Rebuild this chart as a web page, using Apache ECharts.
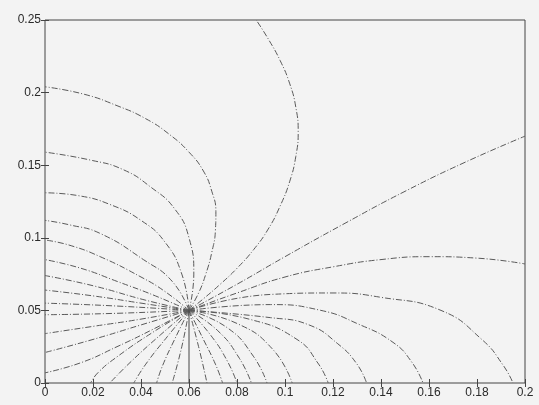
<!DOCTYPE html>
<html>
<head>
<meta charset="utf-8">
<script src="https://cdn.jsdelivr.net/npm/echarts@6/dist/echarts.min.js"></script>
<style>
  html, body { margin: 0; padding: 0; background: #f3f3f3; }
  #main { width: 539px; height: 405px; }
</style>
</head>
<body>
<div id="main"></div>
<script>
// field lines, each starts at the source point (0.06, 0.05)
const source = [0.06, 0.05];

// lines ending on the left edge x = 0
const toLeft = [
    [[0.064, 0.062], [0.067, 0.075], [0.0695, 0.09], [0.071, 0.105], [0.0712, 0.118], [0.0695, 0.132], [0.066, 0.146], [0.06, 0.159], [0.052, 0.171], [0.042, 0.182], [0.03, 0.191], [0.016, 0.199], [0, 0.204]],
    [[0.062, 0.075], [0.06, 0.1], [0.054, 0.12], [0.044, 0.135], [0.0325, 0.147], [0.019, 0.1535], [0, 0.159]],
    [[0.057, 0.075], [0.05, 0.097], [0.04, 0.112], [0.027, 0.123], [0.014, 0.129], [0, 0.131]],
    [[0.053, 0.07], [0.041, 0.085], [0.023, 0.103], [0.01, 0.109], [0, 0.112]],
    [[0.05, 0.063], [0.04, 0.073], [0.023, 0.087], [0.01, 0.095], [0, 0.0985]],
    [[0.046, 0.06], [0.03, 0.07], [0.015, 0.079], [0, 0.085]],
    [[0.042, 0.057], [0.02, 0.067], [0, 0.074]],
    [[0.04, 0.055], [0.02, 0.06], [0, 0.064]],
    [[0.03, 0.053], [0, 0.055]],
    [[0.03, 0.048], [0, 0.047]],
    [[0.04, 0.044], [0.02, 0.039], [0, 0.034]],
    [[0.04, 0.04], [0.02, 0.03], [0, 0.021]],
    [[0.045, 0.037], [0.03, 0.025], [0.015, 0.014], [0, 0.007]]
];

// lines ending on the bottom edge y = 0
const toBottom = [
    [[0.045, 0.035], [0.03, 0.018], [0.022, 0.007], [0.019, 0]],
    [[0.048, 0.033], [0.036, 0.015], [0.027, 0]],
    [[0.051, 0.032], [0.042, 0.013], [0.037, 0]],
    [[0.054, 0.03], [0.049, 0.012], [0.0465, 0]],
    [[0.057, 0.025], [0.053, 0]],
    [[0.064, 0.025], [0.0675, 0]],
    [[0.066, 0.03], [0.071, 0.013], [0.074, 0]],
    [[0.069, 0.033], [0.076, 0.015], [0.08, 0]],
    [[0.072, 0.036], [0.081, 0.017], [0.086, 0]],
    [[0.076, 0.038], [0.087, 0.018], [0.0925, 0]],
    [[0.08, 0.041], [0.095, 0.023], [0.103, 0]],
    [[0.085, 0.044], [0.105, 0.03], [0.114, 0.013], [0.118, 0]],
    [[0.094, 0.045], [0.11, 0.04], [0.122, 0.027], [0.13, 0.013], [0.134, 0]],
    [[0.094, 0.054], [0.115, 0.05], [0.13, 0.041], [0.145, 0.028], [0.153, 0.014], [0.1575, 0]],
    [[0.094, 0.061], [0.12, 0.062], [0.14, 0.059], [0.165, 0.05], [0.182, 0.03], [0.191, 0.012], [0.195, 0]]
];

// the straight drop from the source to the bottom edge
const stem = [[0.06, 0.05], [0.06, 0]];

// lines ending on the right edge x = 0.2
const toRight = [
    [[0.08, 0.062], [0.1, 0.073], [0.12, 0.08], [0.14, 0.085], [0.16, 0.087], [0.18, 0.086], [0.2, 0.082]],
    [[0.08, 0.068], [0.1, 0.087], [0.125, 0.11], [0.15, 0.132], [0.175, 0.152], [0.2, 0.17]]
];

// line ending on the top edge y = 0.25
const toTop = [
    [[0.066, 0.058], [0.073, 0.068], [0.08, 0.079], [0.087, 0.092], [0.093, 0.106], [0.098, 0.122], [0.102, 0.139], [0.1045, 0.156], [0.1055, 0.173], [0.1045, 0.19], [0.102, 0.206], [0.098, 0.222], [0.093, 0.237], [0.088, 0.25]]
];

const xTicks = [0, 0.02, 0.04, 0.06, 0.08, 0.1, 0.12, 0.14, 0.16, 0.18, 0.2];
const yTicks = [0, 0.05, 0.1, 0.15, 0.2, 0.25];

const allLines = [].concat(toLeft, toBottom, toRight, toTop);

const series = allLines.map(function (pts) {
    return {
        type: 'line',
        data: [source].concat(pts),
        smooth: 0.5,
        showSymbol: false,
        silent: true,
        lineStyle: {
            color: '#5a5a5a',
            width: 1,
            type: [6, 2, 1, 2]
        }
    };
});
series.push({
    type: 'line',
    data: stem,
    showSymbol: false,
    silent: true,
    lineStyle: { color: '#444', width: 1 }
});

function tickFmt(v) {
    return String(+v.toFixed(2));
}

const axisText = { color: '#2a2a2a', fontSize: 12, fontFamily: 'Liberation Sans' };
const tickStyle = { show: true, inside: true, length: 4, lineStyle: { color: '#444' } };

function xAx(pos, labels) {
    return {
        type: 'value',
        position: pos,
        min: xTicks[0],
        max: xTicks[xTicks.length - 1],
        interval: 0.02,
        axisLine: { show: false },
        axisTick: tickStyle,
        splitLine: { show: false },
        axisLabel: Object.assign({ show: labels, formatter: tickFmt, margin: 4 }, axisText)
    };
}

function yAx(pos, labels) {
    return {
        type: 'value',
        position: pos,
        min: yTicks[0],
        max: yTicks[yTicks.length - 1],
        interval: 0.05,
        axisLine: { show: false },
        axisTick: tickStyle,
        splitLine: { show: false },
        axisLabel: Object.assign({ show: labels, formatter: tickFmt, margin: 4 }, axisText)
    };
}

var option = {
    backgroundColor: '#f3f3f3',
    animation: false,
    grid: {
        left: 45,
        right: 14,
        top: 20,
        bottom: 22,
        show: true,
        borderColor: '#444',
        borderWidth: 1
    },
    xAxis: [xAx('bottom', true), xAx('top', false)],
    yAxis: [yAx('left', true), yAx('right', false)],
    series: series
};
var myChart = echarts.init(document.getElementById('main'));
option && myChart.setOption(option);
</script>
</body>
</html>
